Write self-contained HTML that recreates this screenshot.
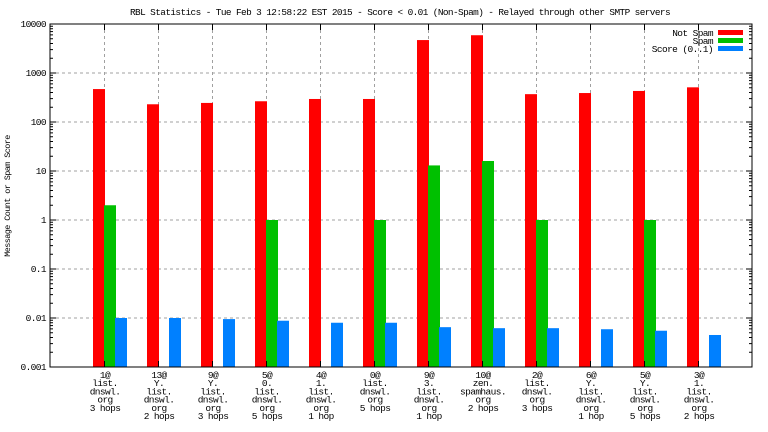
<!DOCTYPE html>
<html><head><meta charset="utf-8"><style>
html,body{margin:0;padding:0;background:#fff;}
svg{display:block;font-family:"Liberation Mono",monospace;font-size:9.5px;letter-spacing:-0.6px;}
</style></head><body>
<svg id="chart" width="768" height="432" xmlns="http://www.w3.org/2000/svg">
<text x="130" y="15" textLength="540" lengthAdjust="spacingAndGlyphs">RBL Statistics - Tue Feb  3 12:58:22 EST 2015 - Score &lt; 0.01 (Non-Spam) - Relayed through other SMTP servers</text>
<text transform="translate(10,196) rotate(-90)" text-anchor="middle" font-size="8.5">Message Count or Spam Score</text>
<g id="grid"></g><g id="bars"></g><g id="axes"></g><g id="labels"></g>
<g>
<text x="713" y="36" text-anchor="end">Not Spam</text>
<rect x="718" y="30" width="25" height="5" fill="#ff0000"/>
<text x="713" y="44" text-anchor="end">Spam</text>
<rect x="718" y="38" width="25" height="5" fill="#00c000"/>
<text x="713" y="52" text-anchor="end">Score (0..1)</text>
<rect x="718" y="46" width="25" height="5" fill="#0080ff"/>
</g>
</svg>
<script>
const categories=[["1@","list.","dnswl.","org","3 hops"],["13@","Y.","list.","dnswl.","org","2 hops"],["9@","Y.","list.","dnswl.","org","3 hops"],["5@","0.","list.","dnswl.","org","5 hops"],["4@","1.","list.","dnswl.","org","1 hop"],["0@","list.","dnswl.","org","5 hops"],["9@","3.","list.","dnswl.","org","1 hop"],["10@","zen.","spamhaus.","org","2 hops"],["2@","list.","dnswl.","org","3 hops"],["6@","Y.","list.","dnswl.","org","1 hop"],["5@","Y.","list.","dnswl.","org","5 hops"],["3@","1.","list.","dnswl.","org","2 hops"]];
const notSpam=[470,230,245,265,295,295,4700,5900,370,390,430,510];
const spam=[2,0,0,1,0,1,13,16,1,0,1,0];
const score=[0.0100,0.0100,0.0095,0.0088,0.0080,0.0080,0.0065,0.0062,0.0062,0.0059,0.0055,0.0045];
const yTicks=[0.001,0.01,0.1,1,10,100,1000,10000];
const yTickLabels=["0.001","0.01","0.1","1","10","100","1000","10000"];
const L=50,R=752,T=24,B=367,NS="http://www.w3.org/2000/svg";
const x=i=>L+54*(i+1);
const y=v=>B-(Math.log10(v)+3)/7*(B-T);
function mk(p,t,a){const e=document.createElementNS(NS,t);for(const k in a)e.setAttribute(k,a[k]);document.getElementById(p).appendChild(e);return e;}
yTicks.forEach((v,i)=>{const yy=y(v);
 if(i>0&&i<yTicks.length-1){const g=mk("grid","line",{x1:L,x2:R,y1:yy,y2:yy,stroke:"#a0a0a0","stroke-dasharray":"3,3"});
 
 }
 const t=mk("axes","text",{x:L-4,y:yy+3,"text-anchor":"end"});t.textContent=yTickLabels[i];
 
 
 mk("axes","line",{x1:L,x2:L+6,y1:yy,y2:yy,stroke:"#000"});mk("axes","line",{x1:R,x2:R-6,y1:yy,y2:yy,stroke:"#000"});
 if(i<yTicks.length-1)for(let m=2;m<10;m++){const ym=y(v*m);mk("axes","line",{x1:L,x2:L+3,y1:ym,y2:ym,stroke:"#000"});mk("axes","line",{x1:R,x2:R-3,y1:ym,y2:ym,stroke:"#000"});}
});
categories.forEach((c,i)=>{const cx=x(i);
 const g=mk("grid","line",{x1:cx+0.5,x2:cx+0.5,y1:T,y2:B,stroke:"#a0a0a0","stroke-dasharray":"3,3"});
 
 
 mk("axes","line",{x1:cx+0.5,x2:cx+0.5,y1:T,y2:T+6,stroke:"#000"});mk("axes","line",{x1:cx+0.5,x2:cx+0.5,y1:B,y2:B-6,stroke:"#000"});
 [[notSpam,"#ff0000",-11,"bar-not-spam"],[spam,"#00c000",0,"bar-spam"],[score,"#0080ff",11,"bar-score"]].forEach(s=>{const v=s[0][i];if(v>0){const yy=y(v);
  const r=mk("bars","rect",{x:cx+s[2],y:yy,width:12,height:B-yy,fill:s[1]});
  
  }});
 c.forEach((ln,j)=>{const t=mk("labels","text",{x:cx+1,y:378+j*8.2,"text-anchor":"middle"});t.textContent=ln;
  
  });
});
const f=mk("axes","rect",{x:L,y:T,width:R-L,height:B-T,fill:"none",stroke:"#000","stroke-width":1});


</script>
</body></html>
